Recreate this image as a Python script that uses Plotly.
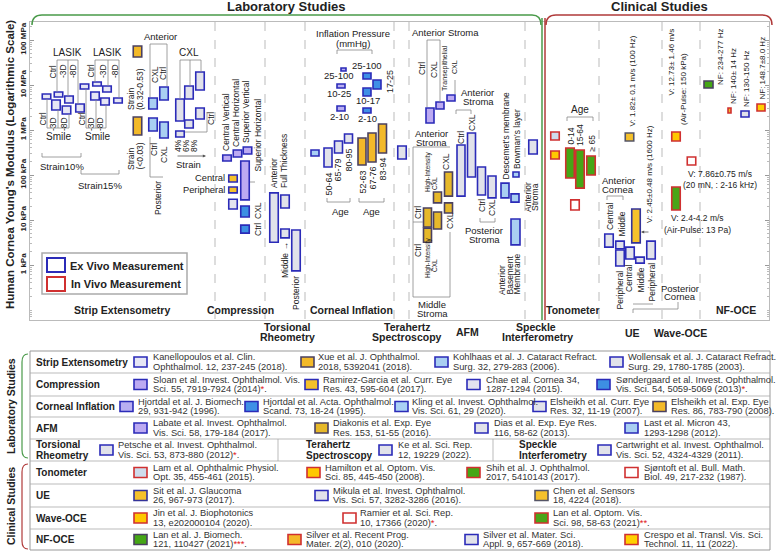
import plotly.graph_objects as go

W, H = 776, 552
FONT = "Liberation Sans, Arial, sans-serif"

# ---------------- data (Young's modulus ranges, kPa) ----------------
# Strip extensometry
strip_ref = ['kan'] * 12 + ['xue'] * 2 + ['koh'] * 4 + ['wol'] * 6
strip_lo = [4890, 2780, 5410, 2270, 3980, 2510, 8150, 9500, 4640, 6990, 3590, 3980,
            41900, 774, 2930, 4640, 950, 664, 1580, 699, 4890, 1110, 7740, 1760]
strip_hi = [6310, 4640, 6990, 3410, 5700, 3790, 10500, 11700, 6990, 9500, 5140, 5140,
            73600, 1950, 5140, 9030, 1850, 1510, 4890, 950, 9500, 1670, 19450, 3080]
# Compression
comp_ref = ['slo'] * 4 + ['ram'] * 2 + ['cha'] + ['son'] * 2
comp_lo = [205, 251, 293, 28, 70, 40, 17.5, 11.7, 5.1]
comp_hi = [278, 359, 419, 205, 100, 54, 29, 20.5, 7.7]
# Torsional rheometry
tors_ref = ['pet'] * 4
tors_lo = [3.2, 18.5, 4.0, 0.74]
tors_hi = [40, 36, 6.3, 6.0]
# Corneal inflation
infl_ref = ['hjb'] * 3 + ['hja'] * 4 + ['kli'] + ['ecr'] * 3 + ['eer'] * 3
infl_lo = [20500, 8580, 2640, 13600, 5700, 8150, 2390, 264, 151, 308, 514, 167, 195, 308]
infl_hi = [23900, 10500, 3410, 18500, 8580, 12900, 3080, 359, 398, 570, 815, 664, 858, 1360]
# Terahertz spectroscopy
thz_ref = ['ke']
thz_lo = [227]
thz_hi = [441]
# AFM
afm_ref = ['lab'] * 3 + ['dia'] * 6 + ['dis'] * 4 + ['las'] * 4
afm_lo = [1430, 2930, 4410, 7.0, 3.2, 24, 6.3, 34, 14.3, 34, 90, 36, 31, 31, 90, 25, 2.8]
afm_hi = [3080, 4190, 5990, 18.5, 6.6, 42, 15.1, 117, 24, 464, 858, 151, 95, 66, 117, 38, 10.5]
# Speckle interferometry
spk_ref = ['car']
spk_lo = [293]
spk_hi = [599]
# Tonometer
ton_ref = ['lam', 'ham', 'shi', 'shi', 'shi', 'sjo']
ton_lo = [599, 227, 86, 51, 100, 16.7]
ton_hi = [904, 341, 398, 359, 264, 28]
# UE
ue_ref = ['sit', 'che'] + ['mik'] * 6
ue_lo = [3.1, 570, 2.5, 2.3, 0.95, 1.36, 1.1, 1.36]
ue_hi = [17.5, 858, 4.9, 3.4, 2.15, 2.5, 1.5, 3.4]
# Wave-OCE
wave_ref = ['jin', 'rmr', 'lao']
wave_lo = [570, 167, 16.7]
wave_hi = [904, 251, 54]
# NF-OCE
nf_ref = ['ljb', 'srp', 'smt', 'cre']
nf_lo = [8580, 2390, 1950, 2640]
nf_hi = [12300, 3080, 2640, 3790]

tick_vals = [1, 10, 100, 1000, 10000, 100000]
tick_text = ['1 kPa', '10 kPa', '100 kPa', '1 MPa', '10 MPa', '100 MPa']

# ---------------- layout positions (x slot of each box, in figure pixels) ----------------
strip_x = [46.5, 56, 58.5, 66.5, 69, 80, 84.5, 97, 95, 107, 105, 118,
           137.5, 137.5, 153, 164, 153, 164, 180, 180, 189, 189, 200, 200]
comp_x = [227, 237.5, 247.5, 245, 233, 233, 233, 245, 245]
tors_x = [274, 285, 285, 296]
infl_x = [343.5, 341, 341, 367, 367, 377, 367, 315, 328, 338.5, 348.5, 362, 372, 382.5]
infl_w = [5] + [8] * 13
thz_x = [402]
afm_x = [430, 440, 451, 427.5, 427.5, 437.5, 437.5, 448.5, 448.5, 461, 471.5, 481.5, 492,
         505, 516, 515, 515.5]
afm_w = [8] * 14 + [6, 8, 9]
spk_x = [533]
ton_x = [555, 555, 570, 580, 591, 575]
ue_x = [636, 629.5, 609, 620, 620, 630, 640, 651]
wave_x = [676, 691.5, 676]
nf_x = [708.5, 729.5, 745, 761]
nf_w = [9, 3, 8, 8]

BLUE = '#2b2bb8'
RED = '#d03030'
DARK = '#4a4060'
STYLE = {
    'kan': ('#e6e6f5', BLUE), 'xue': ('#f3b929', DARK), 'koh': ('#a9cff2', BLUE), 'wol': ('#e1e2ea', BLUE),
    'slo': ('#bcaaf2', BLUE), 'ram': ('#f5c12b', BLUE), 'cha': ('#e3e3ef', BLUE), 'son': ('#3d8fe3', BLUE),
    'hjb': ('#b9aff2', BLUE), 'hja': ('#3f90e6', BLUE), 'kli': ('#a9d0f5', BLUE), 'ecr': ('#e1e2ea', BLUE),
    'eer': ('#f3b929', DARK), 'lab': ('#bcaaf2', BLUE), 'dia': ('#e6b82a', DARK), 'dis': ('#e1e2ea', BLUE),
    'las': ('#a9cff2', BLUE), 'pet': ('#e1e2ea', BLUE), 'ke': ('#e1e2ea', BLUE), 'car': ('#e1e2ea', BLUE),
    'lam': ('#cfdcec', RED), 'ham': ('#ffc800', RED), 'shi': ('#45a616', RED), 'sjo': ('#ffffff', RED),
    'sit': ('#f5c12b', '#333399'), 'mik': ('#e1e2ea', BLUE), 'che': ('#f5c12b', '#555566'),
    'jin': ('#ffc800', RED), 'rmr': ('#ffffff', RED), 'lao': ('#4aa518', RED),
    'ljb': ('#45a616', DARK), 'srp': ('#f5b82a', RED), 'smt': ('#e1e2ea', BLUE), 'cre': ('#ffd000', RED),
}

fig = go.Figure()

groups = [
    (strip_ref, strip_lo, strip_hi, strip_x, None),
    (comp_ref, comp_lo, comp_hi, comp_x, None),
    (tors_ref, tors_lo, tors_hi, tors_x, None),
    (infl_ref, infl_lo, infl_hi, infl_x, infl_w),
    (thz_ref, thz_lo, thz_hi, thz_x, None),
    (afm_ref, afm_lo, afm_hi, afm_x, afm_w),
    (spk_ref, spk_lo, spk_hi, spk_x, None),
    (ton_ref, ton_lo, ton_hi, ton_x, None),
    (ue_ref, ue_lo, ue_hi, ue_x, None),
    (wave_ref, wave_lo, wave_hi, wave_x, None),
    (nf_ref, nf_lo, nf_hi, nf_x, nf_w),
]
for refs, lo, hi, xs, ws in groups:
    ws = ws or [8.5] * len(xs)
    for key in dict.fromkeys(refs):
        idx = [i for i, r in enumerate(refs) if r == key]
        fill, edge = STYLE[key]
        fig.add_trace(go.Bar(
            x=[xs[i] for i in idx], width=[ws[i] for i in idx],
            base=[lo[i] for i in idx], y=[hi[i] - lo[i] for i in idx],
            marker=dict(color=fill, line=dict(color=edge, width=1.6)),
            showlegend=False, hoverinfo='skip'))


def txt(x, y, s, size=9, angle=0, bold=False, xa='center', ya='middle', color='#222'):
    if bold:
        s = '<b>' + s + '</b>'
    fig.add_annotation(x=x / W, y=1 - y / H, xref='paper', yref='paper', text=s, showarrow=False,
                       textangle=angle, xanchor=xa, yanchor=ya, borderpad=0,
                       font=dict(family=FONT, size=size, color=color))


def vt(x, y, s, size=8.5, ya='middle'):
    txt(x, y, s, size=size, angle=-90, ya=ya)


def seg(x0, y0, x1, y1, color='#888', width=0.8, dash=None):
    fig.add_shape(type='line', xref='paper', yref='paper', x0=x0 / W, y0=1 - y0 / H,
                  x1=x1 / W, y1=1 - y1 / H, line=dict(color=color, width=width, dash=dash))


def box(x0, y0, x1, y1, fill, edge, width=1.5):
    fig.add_shape(type='rect', xref='paper', yref='paper', x0=x0 / W, y0=1 - y0 / H,
                  x1=x1 / W, y1=1 - y1 / H, fillcolor=fill, line=dict(color=edge, width=width))


def p(x, y):
    return f"{x / W:.5f},{1 - y / H:.5f}"


def curve(d, color, width=1.5):
    fig.add_shape(type='path', xref='paper', yref='paper', path=d, line=dict(color=color, width=width))


def bracket(x0, x1, y, up=True, color='#888'):
    d = -4 if up else 4
    seg(x0, y, x1, y, color)
    seg(x0, y, x0, y + d, color)
    seg(x1, y, x1, y + d, color)


def arrow(x0, y0, x1, y1):
    fig.add_annotation(x=x1 / W, y=1 - y1 / H, ax=x0 - x1, ay=y0 - y1, xref='paper', yref='paper',
                       text='', showarrow=True, arrowhead=2,
                       arrowsize=0.8, arrowwidth=0.8, arrowcolor='#555')


# ---------------- frame, dividers, titles ----------------
for xd in [215, 265, 305, 394, 409, 525, 599, 662, 700]:
    seg(xd, 22, xd, 320, '#aaa', 0.8, 'dash')
seg(542, 18, 542, 320, '#4a9a4a', 1.5)
seg(545, 18, 545, 320, '#b03a3a', 1.5)

curve(f"M {p(32, 25)} Q {p(32, 15)} {p(42, 15)} L {p(532, 15)} Q {p(541, 15)} {p(541, 25)}", '#4a9a4a')
curve(f"M {p(546, 25)} Q {p(546, 15)} {p(556, 15)} L {p(762, 15)} Q {p(772, 15)} {p(772, 25)}", '#b03a3a')
txt(286, 7, 'Laboratory Studies', 13, bold=True)
txt(659, 7, 'Clinical Studies', 13, bold=True)
txt(10, 165, "Human Cornea Young's Modulus (Logarithmic Scale)", 11.5, angle=-90, bold=True)

# legend box
box(42, 253, 187, 294, 'white', '#aaa', 1.5)
box(47, 258, 65, 272, 'white', BLUE, 2)
box(47, 277, 65, 291, 'white', RED, 2)
txt(69, 265.5, 'Ex Vivo Measurement', 11, bold=True, xa='left')
txt(70, 284, 'In Vivo Measurement', 11, bold=True, xa='left')

# method labels
for x, y, s in [(122, 310, 'Strip Extensometry'), (240, 310, 'Compression'), (351, 310, 'Corneal Inflation'),
                (572, 310, 'Tonometer'), (736, 310, 'NF-OCE'), (287, 327, 'Torsional'), (287, 337, 'Rheometry'),
                (407, 327, 'Terahertz'), (407, 337, 'Spectroscopy'), (467, 332, 'AFM'), (536, 327, 'Speckle'),
                (537, 337, 'Interferometry'), (632, 333, 'UE'), (680, 333, 'Wave-OCE')]:
    txt(x, y, s, 10.5, bold=True)

# ---------------- strip extensometry annotations ----------------
txt(67, 53, 'LASIK', 10)
txt(107, 53, 'LASIK', 10)
for x, s in [(53, 'Ctrl'), (63, '-3D'), (73, '-8D'), (91, 'Ctrl'), (103, '-3D'), (115, '-8D')]:
    vt(x, 79, s, ya='bottom')
seg(57, 60, 78, 60); seg(57, 60, 57, 92); seg(68, 60, 68, 96); seg(78, 60, 78, 104)
seg(95, 60, 119, 60); seg(95, 60, 95, 82); seg(108, 60, 108, 86); seg(119, 60, 119, 98)
for x, s in [(42, 'Ctrl'), (53, '-3D'), (64, '-8D'), (81, 'Ctrl'), (91, '-3D'), (100, '-8D')]:
    vt(x, 112 if s == 'Ctrl' else 116, s, ya='top')
seg(47, 128, 69, 128); seg(47, 99, 47, 128); seg(58, 110, 58, 128); seg(69, 114, 69, 128)
seg(86, 128, 106, 128); seg(86, 89, 86, 128); seg(96, 100, 96, 128); seg(106, 105, 106, 128)
txt(58, 136, 'Smile', 10)
txt(97, 136, 'Smile', 10)
bracket(42, 81, 157, up=True)
txt(62, 166, 'Strain10%', 9.5)
bracket(81, 119, 174, up=True)
txt(100, 185, 'Strain15%', 9.5)

vt(131, 111, 'Strain', ya='bottom'); vt(140, 111, '(0.32-0.53)', ya='bottom')
vt(131, 171, 'Strain', ya='bottom'); vt(140, 171, '(<0.03)', ya='bottom')

txt(160, 37, 'Anterior', 9.5)
seg(150, 44, 167, 44); seg(150, 44, 150, 97); seg(167, 44, 167, 86)
vt(155, 75, 'CXL'); vt(163, 74, 'Ctrl')
vt(154, 150, 'Ctrl'); vt(164, 155, 'CXL')
seg(150, 137, 150, 177); seg(150, 177, 163, 177)
vt(158, 198, 'Posterior')

txt(189, 53, 'CXL', 10)
seg(180, 60, 201, 60); seg(180, 60, 180, 99); seg(190, 60, 190, 86); seg(201, 60, 201, 72)
seg(185, 132, 207, 132); seg(207, 112, 207, 132)
vt(211, 118, 'Ctrl')
vt(178, 146, '4%'); vt(186, 146, '6%'); vt(194, 146, '8%')
arrow(176, 156, 206, 156)
txt(188, 164, 'Strain', 9.5)

# ---------------- compression ----------------
vt(226, 152, 'Central Vertical', ya='bottom')
vt(236, 148, 'Central Horizontal', ya='bottom')
vt(246, 144, 'Superior Vertical', ya='bottom')
vt(258, 173, 'Superior Horizontal', ya='bottom')
seg(250, 182, 255, 182)
txt(226, 178, 'Central', 9.3, xa='right')
txt(226, 190, 'Peripheral', 9.3, xa='right')
vt(258, 211, 'CXL'); vt(258, 230, 'Ctrl')

# ---------------- torsional rheometry ----------------
vt(274, 189, 'Anterior', ya='bottom')
vt(284, 189, 'Full Thickness', ya='bottom')
vt(285, 241, 'Middle \u2192', ya='top')
vt(296, 275, 'Posterior', ya='top')

# ---------------- corneal inflation ----------------
txt(353, 33, 'Inflation Pressure', 9.5)
txt(353, 43, '(mmHg)', 9.5)
bracket(337, 372, 50, up=False)
txt(339, 76, '25-100', 9.5); txt(367, 66, '25-100', 9.5)
txt(339, 94, '10-25', 9.5); txt(368, 100, '10-17', 9.5)
vt(390, 82, '17-25', 9)
txt(339, 117, '2-10', 9.5); txt(367, 118, '2-10', 9.5)
for x, y0, s in [(328, 172, '50-64'), (338, 158, '65-79'), (348, 148, '80-95'),
                 (362, 170, '52-63'), (372, 166, '67-76'), (382, 157, '83-94')]:
    vt(x, y0, s, 9, ya='top')
bracket(327, 350, 202, up=True)
bracket(359, 384, 202, up=True)
txt(340, 211, 'Age', 9.5); txt(371, 211, 'Age', 9.5)

# ---------------- AFM ----------------
txt(446, 32, 'Anterior Stroma', 9.5)
seg(427, 40, 440, 40); seg(427, 40, 427, 107); seg(440, 40, 440, 102)
seg(455, 80, 455, 94)
vt(422, 68, 'Ctrl'); vt(434, 70, 'CXL')
vt(445, 68, 'Transepithelial', 7); vt(455, 67, 'CXL', 7)
txt(477, 93, 'Anterior', 9.5); txt(478, 102, 'Stroma', 9.5)
bracket(456, 471, 110, up=False)
vt(461, 138, 'Ctrl'); vt(472, 122, 'CXL')
txt(431, 134, 'Anterior', 9.5); txt(431, 142, 'Stroma', 9.5)
seg(413, 147, 450, 147); seg(413, 147, 413, 297); seg(413, 297, 450, 297); seg(450, 232, 450, 297)
seg(413, 222, 423, 222)
vt(418, 213, 'Ctrl'); vt(428, 172, 'High-Intensity', 6.5); vt(435, 184, 'CXL', 6.5)
vt(446, 161, 'CXL')
vt(418, 251, 'Ctrl'); vt(428, 258, 'High-Intensity', 6.5); vt(435, 266, 'CXL', 6.5)
vt(450, 221, 'CXL')
txt(432, 304, 'Middle', 9.5); txt(432, 313, 'Stroma', 9.5)
vt(482, 206, 'Ctrl'); vt(492, 208, 'CXL')
bracket(480, 495, 222, up=True)
txt(484, 230, 'Posterior', 9.5); txt(484, 239, 'Stroma', 9.5)
vt(505, 181, "Descemet's membrane", ya='bottom')
vt(517, 170, "Bowman's layer", ya='bottom')
vt(528, 197, 'Anterior'); vt(535, 197, 'Stroma')
vt(502, 296, 'Anterior', ya='bottom'); vt(509, 296, 'Basement', ya='bottom'); vt(516, 296, 'Membrane', ya='bottom')

# ---------------- tonometer ----------------
txt(580, 109, 'Age', 10)
bracket(567, 593, 117, up=False)
vt(570, 146, '0-14', ya='bottom'); vt(580, 147, '15-64', ya='bottom'); vt(591, 153, '\u2265 65', ya='bottom')

# ---------------- UE ----------------
vt(632, 128, 'V: 1.82\u00b1 0.1 m/s (100 Hz)', 8, ya='bottom')
vt(649, 224, 'V: 2.45\u00b10.48 m/s (1600 Hz)', 8, ya='bottom')
arrow(650, 232, 641, 232)
txt(618, 180, 'Anterior', 9.5); txt(618, 189, 'Cornea', 9.5)
bracket(607, 623, 196, up=False)
vt(610, 231, 'Central', ya='bottom'); vt(621, 238, 'Middle', ya='bottom')
vt(619, 270, 'Peripheral', ya='top'); vt(629, 263, 'Central', ya='top')
vt(640, 267, 'Middle', ya='top'); vt(651, 262, 'Peripheral', ya='top')
txt(680, 288, 'Posterior', 9.5); txt(680, 297, 'Cornea', 9.5)
seg(678, 302, 678, 309); seg(678, 309, 633, 309); seg(633, 309, 633, 313)
seg(633, 304, 653, 304)

# ---------------- Wave-OCE ----------------
vt(671, 97, 'V: 12.73\u00b1 1.46 m/s', 8, ya='bottom')
vt(683, 126, '(Air-Pulse: 150 kPa)', 8, ya='bottom')
txt(720, 174, 'V: 7.86\u00b10.75 m/s', 8.5)
txt(720, 185, '(20 mN, : 2-16 kHz)', 8.5)
txt(697, 218, 'V: 2.4-4.2 m/s', 8.5)
txt(697, 230, '(Air-Pulse: 13 Pa)', 8.5)

# ---------------- NF-OCE ----------------
vt(720, 86, 'NF: 234-277 Hz', 8, ya='bottom')
vt(733, 105, 'NF: 140\u00b1 14 Hz', 8, ya='bottom')
vt(747, 108, 'NF: 130-150 Hz', 8, ya='bottom')
vt(762, 101, 'NF: 148.7\u00b18.0 Hz', 8, ya='bottom')

# ---------------- reference table ----------------
STAR = "<span style='color:#e02020'>{}</span>"
row_y = [351, 373, 396, 417, 439, 461, 484, 507, 529, 550]
row_names = ['Strip Extensometry', 'Compression', 'Corneal Inflation', 'AFM', None,
             'Tonometer', 'UE', 'Wave-OCE', 'NF-OCE']
row_refs = [
    [('kan', 'Kanellopoulos et al. Clin.', 'Ophthalmol. 12, 237-245 (2018).', 134, 152),
     ('xue', 'Xue et al. J. Ophthalmol.', '2018, 5392041 (2018).', 301, 317),
     ('koh', 'Kohlhaas et al. J. Cataract Refract.', 'Surg. 32, 279-283 (2006).', 435, 452),
     ('wol', 'Wollensak et al. J. Cataract Refract.', 'Surg. 29, 1780-1785 (2003).', 610, 627)],
    [('slo', 'Sloan et al. Invest. Ophthalmol. Vis.', 'Sci. 55, 7919-7924 (2014)' + STAR.format('*') + '.', 134, 152),
     ('ram', 'Ramirez-Garcia et al. Curr. Eye', 'Res. 43, 595-604 (2017).', 305, 322),
     ('cha', 'Chae et al. Cornea 34,', '1287-1294 (2015).', 467, 485),
     ('son', 'S\u00f8ndergaard et al. Invest. Ophthalmol.', 'Vis. Sci. 54, 5059-5069 (2013)' + STAR.format('*') + '.', 597, 615)],
    [('hjb', 'Hjortdal et al. J. Biomech.', '29, 931-942 (1996).', 120, 137),
     ('hja', 'Hjortdal et al. Acta. Ophthalmol.', 'Scand. 73, 18-24 (1995).', 245, 262),
     ('kli', 'Kling et al. Invest. Ophthalmol.', 'Vis. Sci. 61, 29 (2020).', 395, 411),
     ('ecr', 'Elsheikh et al. Curr. Eye', 'Res. 32, 11-19 (2007).', 533, 549),
     ('eer', 'Elsheikh et al. Exp. Eye', 'Res. 86, 783-790 (2008).', 653, 670)],
    [('lab', 'Labate et al. Invest. Ophthalmol.', 'Vis. Sci. 58, 179-184 (2017).', 134, 152),
     ('dia', 'Diakonis et al. Exp. Eye', 'Res. 153, 51-55 (2016).', 315, 332),
     ('dis', 'Dias et al. Exp. Eye Res.', '116, 58-62 (2013).', 475, 493),
     ('las', 'Last et al. Micron 43,', '1293-1298 (2012).', 625, 643)],
    [('pet', 'Petsche et al. Invest. Ophthalmol.', 'Vis. Sci. 53, 873-880 (2012)' + STAR.format('*') + '.', 100, 117),
     ('ke', 'Ke et al. Sci. Rep.', '12, 19229 (2022).', 379, 397),
     ('car', 'Cartwright et al. Invest. Ophthalmol.', 'Vis. Sci. 52, 4324-4329 (2011).', 598, 615)],
    [('lam', 'Lam et al. Ophthalmic Physiol.', 'Opt. 35, 455-461 (2015).', 134, 152),
     ('ham', 'Hamilton et al. Optom. Vis.', 'Sci. 85, 445-450 (2008).', 307, 324),
     ('shi', 'Shih et al. J. Ophthalmol.', '2017, 5410143 (2017).', 467, 485),
     ('sjo', 'Sj\u00f8ntoft et al. Bull. Math.', 'Biol. 49, 217-232 (1987).', 625, 643)],
    [('sit', 'Sit et al. J. Glaucoma', '26, 967-973 (2017).', 134, 152),
     ('mik', 'Mikula et al. Invest. Ophthalmol.', 'Vis. Sci. 57, 3282-3286 (2016).', 315, 332),
     ('che', 'Chen et al. Sensors', '18, 4224 (2018).', 535, 552)],
    [('jin', 'Jin et al. J. Biophotonics', '13, e202000104 (2020).', 134, 152),
     ('rmr', 'Ramier et al. Sci. Rep.', '10, 17366 (2020)' + STAR.format('*') + '.', 343, 359),
     ('lao', 'Lan et al. Optom. Vis.', 'Sci. 98, 58-63 (2021)' + STAR.format('**') + '.', 535, 552)],
    [('ljb', 'Lan et al. J. Biomech.', '121, 110427 (2021)' + STAR.format('***') + '.', 134, 152),
     ('srp', 'Silver et al. Recent Prog.', 'Mater. 2(2), 010 (2020).', 288, 305),
     ('smt', 'Silver et al. Mater. Sci.', 'Appl. 9, 657-669 (2018).', 465, 482),
     ('cre', 'Crespo et al. Transl. Vis. Sci.', 'Technol. 11, 11 (2022).', 625, 643)],
]

box(30, row_y[0], 770, row_y[-1], 'rgba(0,0,0,0)', '#999', 1)
for yb in row_y[1:-1]:
    seg(30, yb, 770, yb, '#aaa', 0.8)
seg(278, row_y[4], 278, row_y[5], '#aaa', 0.8)
seg(493, row_y[4], 493, row_y[5], '#aaa', 0.8)

for i, refs in enumerate(row_refs):
    ym = (row_y[i] + row_y[i + 1]) / 2
    if row_names[i]:
        txt(35, ym, row_names[i], 10, bold=True, xa='left')
    for key, l1, l2, sx, tx in refs:
        fill, edge = STYLE[key]
        box(sx, ym - 5, sx + 13, ym + 5, fill, edge, 1.6)
        txt(tx, ym - 4.8, l1, 9.3, xa='left', color='#333')
        txt(tx, ym + 4.8, l2, 9.3, xa='left', color='#333')
ym4 = (row_y[4] + row_y[5]) / 2
for x, a, b in [(35, 'Torsional', 'Rheometry'), (305, 'Terahertz', 'Spectroscopy'), (518, 'Speckle', 'Interferometry')]:
    txt(x, ym4 - 5.5, a, 10, bold=True, xa='left')
    txt(x, ym4 + 5.5, b, 10, bold=True, xa='left')

curve(f"M {p(28, 354)} Q {p(22, 354)} {p(22, 362)} L {p(22, 450)} Q {p(22, 458)} {p(28, 458)}", '#4a9a4a', 1.2)
curve(f"M {p(28, 464)} Q {p(22, 464)} {p(22, 472)} L {p(22, 541)} Q {p(22, 549)} {p(28, 549)}", '#b03a3a', 1.2)
txt(11, 406, 'Laboratory Studies', 10.5, angle=-90, bold=True)
txt(11, 506, 'Clinical Studies', 10.5, angle=-90, bold=True)

fig.update_layout(
    width=W, height=H,
    margin=dict(l=0, r=0, t=0, b=0),
    paper_bgcolor='white', plot_bgcolor='white',
    barmode='overlay', showlegend=False,
    font=dict(family=FONT, color='#222'),
    xaxis=dict(domain=[30 / W, 769 / W], range=[30, 769], showticklabels=False, showgrid=False,
               zeroline=False, showline=True, linecolor='#bbb', mirror=True, ticks=''),
    yaxis=dict(domain=[1 - 320 / H, 1 - 22 / H], type='log', range=[-1.222, 5.4],
               tickvals=tick_vals, ticktext=['<b>' + t + '</b>' for t in tick_text], tickangle=-90,
               tickfont=dict(size=8, family=FONT, color='#222'), ticks='inside', ticklen=4,
               tickcolor='#999', showline=True, linecolor='#bbb', mirror='ticks', showgrid=False,
               zeroline=False,
               minor=dict(ticks='inside', ticklen=2, tickcolor='#bbb', dtick='D1')),
)

# page body has a default 8px margin; drop it so the figure sits at the window origin
fig.write_html("out.html", config={'displayModeBar': False},
               post_script="document.body.style.margin='0';")
